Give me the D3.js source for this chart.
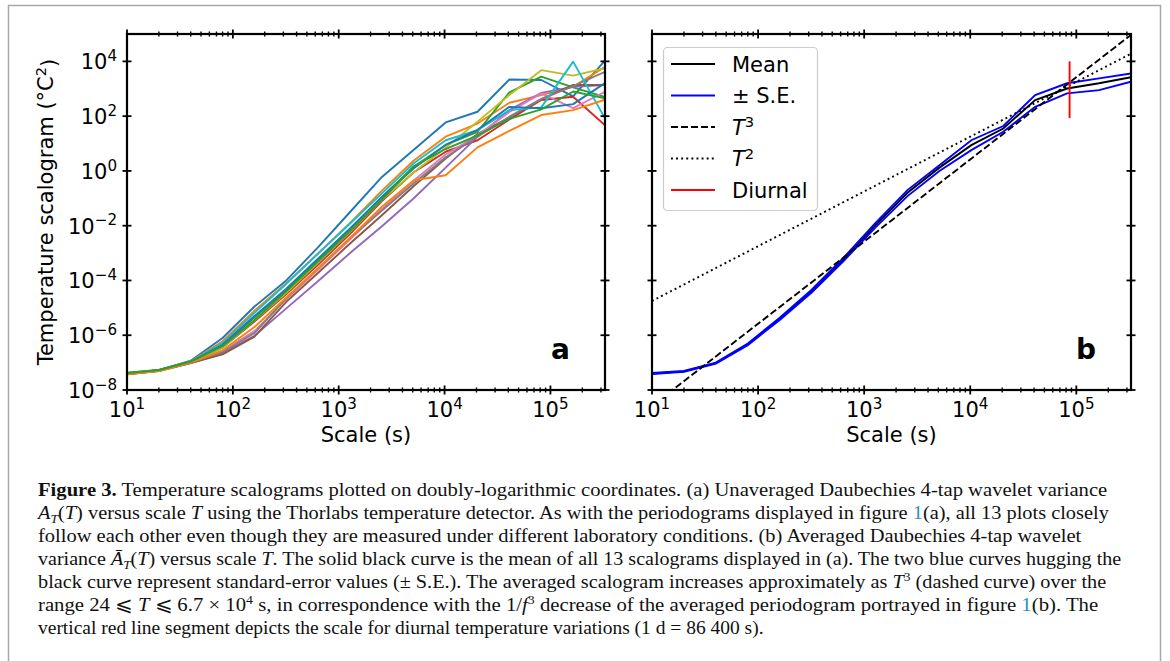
<!DOCTYPE html>
<html>
<head>
<meta charset="utf-8">
<script src="https://cdn.jsdelivr.net/npm/d3@7"></script>
<style>
  body { margin: 0; background: #fff; }
  svg { display: block; }
</style>
</head>
<body>
<div id="viz"></div>
<script>

// scale T in seconds (dyadic scales of the 10 s sampling)
const scales = [10, 20, 40, 80, 160, 320, 640, 1280, 2560, 5120, 10240, 20480, 40960, 81920, 163840, 327680];

// panel a: log10 of the 13 unaveraged scalograms
const run01 = [-7.40, -7.28, -6.93, -6.10, -4.95, -4.00, -2.78, -1.50, -0.22, 0.77, 1.77, 2.16, 3.34, 3.32, 2.72, 4.03];
const run02 = [-7.43, -7.30, -6.95, -6.22, -5.10, -4.10, -3.00, -1.90, -0.72, 0.38, 1.25, 1.73, 2.49, 2.77, 3.07, 3.80];
const run03 = [-7.37, -7.27, -6.97, -6.38, -5.35, -4.35, -3.25, -2.12, -0.95, 0.15, 0.95, 1.43, 2.87, 3.44, 3.05, 2.70];
const run04 = [-7.40, -7.28, -6.98, -6.45, -5.50, -4.50, -3.42, -2.30, -1.10, -0.05, 0.70, 1.12, 1.88, 2.59, 2.71, 1.67];
const run05 = [-7.42, -7.30, -7.02, -6.65, -6.02, -5.02, -4.02, -3.00, -2.02, -1.00, 0.12, 1.25, 2.22, 2.85, 3.07, 3.14];
const run06 = [-7.43, -7.31, -7.02, -6.70, -6.05, -4.78, -3.72, -2.65, -1.62, -0.55, 0.45, 1.35, 1.95, 2.62, 3.14, 3.14];
const run07 = [-7.40, -7.29, -6.99, -6.58, -5.85, -4.68, -3.60, -2.50, -1.40, -0.35, 0.60, 1.30, 2.15, 2.83, 2.29, 2.89];
const run08 = [-7.42, -7.30, -7.00, -6.62, -5.92, -4.65, -3.55, -2.45, -1.45, -0.45, 0.50, 1.25, 1.98, 2.62, 3.10, 3.62];
const run09 = [-7.40, -7.28, -6.97, -6.45, -5.45, -4.45, -3.35, -2.22, -1.05, -0.05, 0.85, 1.80, 2.77, 3.68, 3.48, 3.75];
const run10 = [-7.40, -7.28, -6.96, -6.28, -5.18, -4.12, -3.02, -1.92, -0.82, 0.28, 1.12, 1.49, 2.22, 2.32, 3.99, 1.92];
const run11 = [-7.40, -7.28, -6.97, -6.35, -5.30, -4.30, -3.20, -2.10, -0.95, 0.10, 0.95, 1.50, 2.34, 2.29, 2.44, 3.21];
const run12 = [-7.42, -7.31, -7.00, -6.55, -5.70, -4.62, -3.55, -2.45, -1.31, -0.34, -0.16, 0.86, 1.46, 2.04, 2.22, 2.60];
const run13 = [-7.38, -7.27, -6.96, -6.40, -5.45, -4.40, -3.30, -2.20, -1.05, 0.17, 0.80, 1.30, 1.90, 2.25, 2.90, 2.65];
const runs = [run01, run02, run03, run04, run05, run06, run07, run08, run09, run10, run11, run12, run13];
// matplotlib default colour cycle, wrapping after ten
const runColors = ['#1f77b4', '#ff7f0e', '#2ca02c', '#d62728', '#9467bd', '#8c564b', '#e377c2',
                   '#7f7f7f', '#bcbd22', '#17becf', '#1f77b4', '#ff7f0e', '#2ca02c'];

// panel b: log10 of mean and +/- standard error
const meanLog  = [-7.40, -7.32, -7.02, -6.33, -5.40, -4.39, -3.23, -1.98, -0.80, 0.12, 0.94, 1.55, 2.59, 3.01, 3.20, 3.42];
const upperLog = [-7.38, -7.30, -7.00, -6.30, -5.36, -4.34, -3.17, -1.90, -0.70, 0.21, 1.12, 1.64, 2.77, 3.20, 3.38, 3.56];
const lowerLog = [-7.42, -7.34, -7.04, -6.36, -5.44, -4.44, -3.29, -2.06, -0.92, 0.00, 0.76, 1.43, 2.34, 2.83, 2.95, 3.26];
// power-law guide lines, given by their end points [T, A]
const t3Line = [[10, 2.63e-9], [327680, 9.26e4]];
const t2Line = [[10, 1.78e-5], [327680, 1.91e4]];
// diurnal scale, 1 d = 86400 s
const diurnalLine = [[86400, 85], [86400, 1.0e4]];

const xTickValues = [1e1, 1e2, 1e3, 1e4, 1e5];
const xTickExps = ['1', '2', '3', '4', '5'];
const yTickValues = [1e-8, 1e-6, 1e-4, 1e-2, 1e0, 1e2, 1e4];
const yTickExps = ['\u22128', '\u22126', '\u22124', '\u22122', '0', '2', '4'];

const legendNames = ['Mean', '\u00b1 S.E.', 'T3', 'T2', 'Diurnal'];

// caption, one entry per printed line; segments are [text, style]
const captionLines = [
  [['Figure 3.', 'b'], [' Temperature scalograms plotted on doubly-logarithmic coordinates. (a)  Unaveraged Daubechies 4-tap wavelet variance', '']],
  [['A', 'i'], ['T', 'sub'], ['(', ''], ['T', 'i'], [') versus scale ', ''], ['T', 'i'], [' using the Thorlabs temperature detector. As with the periodograms displayed in figure ', ''], ['1', 'link'], ['(a), all 13 plots closely', '']],
  [['follow each other even though they are measured under different laboratory conditions. (b)  Averaged Daubechies 4-tap wavelet', '']],
  [['variance ', ''], ['\u0100', 'i'], ['T', 'sub'], ['(', ''], ['T', 'i'], [') versus scale ', ''], ['T', 'i'], ['. The solid black curve is the mean of all 13 scalograms displayed in (a). The two blue curves hugging the', '']],
  [['black curve represent standard-error values (\u00b1 S.E.). The averaged scalogram increases approximately as ', ''], ['T', 'i'], ['3', 'sup'], [' (dashed curve) over the', '']],
  [['range 24 \u2a7d ', ''], ['T', 'i'], [' \u2a7d 6.7 \u00d7 10', ''], ['4', 'sup'], [' s, in correspondence with the 1/', ''], ['f', 'i'], ['3', 'sup'], [' decrease of the averaged periodogram portrayed in figure ', ''], ['1', 'link'], ['(b). The', '']],
  [['vertical red line segment depicts the scale for diurnal temperature variations (1 d = 86 400 s).', '']]
];
const captionRight = [1108, 1112, 1082, 1122, 1107, 1100, 764];

// dimensions
const width = 1170, height = 661;
const yTop = 34, yBottom = 390;
const panels = [
  { id: 'a', left: 127, right: 605 },
  { id: 'b', left: 652, right: 1131 }
];
const sans = 'DejaVu Sans, sans-serif';

const svg = d3.select('#viz').append('svg')
  .attr('width', width)
  .attr('height', height);

// light frame round the whole figure
svg.append('rect')
  .attr('x', 8.5).attr('y', 5.5)
  .attr('width', 1152).attr('height', 700)
  .attr('fill', 'none').attr('stroke', '#a8a8a8').attr('stroke-width', 1.5);

const y = d3.scaleLog().domain([1e-8, 1e5]).range([yBottom, yTop]);

// tick label of the form 10^n
function powerLabel(sel, exp) {
  sel.append('tspan').text('10');
  sel.append('tspan').attr('dy', '-0.55em').attr('font-size', '0.72em').text(exp);
}

panels.forEach((p) => {
  const x = d3.scaleLog().domain([10, 327680]).range([p.left, p.right]);
  const g = svg.append('g');

  g.append('clipPath').attr('id', 'clip' + p.id)
    .append('rect')
      .attr('x', p.left).attr('y', yTop)
      .attr('width', p.right - p.left).attr('height', yBottom - yTop);

  const plot = g.append('g').attr('clip-path', `url(#clip${p.id})`);
  const line = d3.line()
    .x((d, i) => x(scales[i]))
    .y(d => y(Math.pow(10, d)));
  const seg = d3.line().x(d => x(d[0])).y(d => y(d[1]));

  if (p.id === 'a') {
    runs.forEach((r, i) => {
      plot.append('path')
        .datum(r)
        .attr('d', line)
        .attr('fill', 'none')
        .attr('stroke', runColors[i])
        .attr('stroke-width', 1.9)
        .attr('stroke-linejoin', 'round');
    });
  } else {
    plot.append('path').datum(meanLog).attr('d', line)
      .attr('fill', 'none').attr('stroke', '#000').attr('stroke-width', 1.9);
    [upperLog, lowerLog].forEach(s => {
      plot.append('path').datum(s).attr('d', line)
        .attr('fill', 'none').attr('stroke', '#0000ff').attr('stroke-width', 1.9);
    });
    plot.append('path').datum(t3Line).attr('d', seg)
      .attr('fill', 'none').attr('stroke', '#000').attr('stroke-width', 1.9)
      .attr('stroke-dasharray', '7,3');
    plot.append('path').datum(t2Line).attr('d', seg)
      .attr('fill', 'none').attr('stroke', '#000').attr('stroke-width', 1.9)
      .attr('stroke-dasharray', '1.9,3.2');
    plot.append('path').datum(diurnalLine).attr('d', seg)
      .attr('fill', 'none').attr('stroke', '#ff0000').attr('stroke-width', 1.9);
  }

  // ticks, drawn across the spines (in and out)
  const ticks = g.append('g').attr('stroke', '#000');
  x.ticks().forEach(v => {
    const major = xTickValues.includes(v);
    const len = major ? 4.5 : 2.5;
    const w = major ? 1.8 : 1.4;
    [yTop, yBottom].forEach(yy => {
      ticks.append('line')
        .attr('x1', x(v)).attr('x2', x(v))
        .attr('y1', yy - len).attr('y2', yy + len)
        .attr('stroke-width', w);
    });
  });
  yTickValues.forEach(v => {
    [p.left, p.right].forEach(xx => {
      ticks.append('line')
        .attr('x1', xx - 4.5).attr('x2', xx + 4.5)
        .attr('y1', y(v)).attr('y2', y(v))
        .attr('stroke-width', 1.8);
    });
  });

  // spines
  g.append('rect')
    .attr('x', p.left).attr('y', yTop)
    .attr('width', p.right - p.left).attr('height', yBottom - yTop)
    .attr('fill', 'none').attr('stroke', '#000').attr('stroke-width', 2.2);

  // x tick labels
  xTickValues.forEach((v, i) => {
    const t = g.append('text')
      .attr('x', x(v)).attr('y', 417)
      .attr('text-anchor', 'middle')
      .attr('font-family', sans).attr('font-size', 21);
    powerLabel(t, xTickExps[i]);
  });

  g.append('text')
    .attr('x', (p.left + p.right) / 2).attr('y', 442)
    .attr('text-anchor', 'middle')
    .attr('font-family', sans).attr('font-size', 21)
    .text('Scale (s)');

  // panel letter
  g.append('text')
    .attr('x', p.right - 35).attr('y', 359)
    .attr('text-anchor', 'end')
    .attr('font-family', sans).attr('font-size', 28).attr('font-weight', 'bold')
    .text(p.id);

  if (p.id === 'a') {
    yTickValues.forEach((v, i) => {
      const t = g.append('text')
        .attr('x', 117).attr('y', y(v) + 8)
        .attr('text-anchor', 'end')
        .attr('font-family', sans).attr('font-size', 21);
      powerLabel(t, yTickExps[i]);
    });
    const yl = g.append('text')
      .attr('transform', `translate(53,${(yTop + yBottom) / 2}) rotate(-90)`)
      .attr('text-anchor', 'middle')
      .attr('font-family', sans).attr('font-size', 21);
    yl.append('tspan').text('Temperature scalogram (\u00b0C');
    yl.append('tspan').attr('dy', '-0.5em').attr('font-size', '0.7em').text('2');
    yl.append('tspan').attr('dy', '0.5em').text(')');
  }
});

// legend of panel b
const leg = svg.append('g');
leg.append('rect')
  .attr('x', 663.5).attr('y', 47.5)
  .attr('width', 154).attr('height', 163).attr('rx', 4)
  .attr('fill', '#fff').attr('fill-opacity', 0.8)
  .attr('stroke', '#cccccc').attr('stroke-width', 1.2);
const legStyles = [
  { stroke: '#000', dash: null },
  { stroke: '#0000ff', dash: null },
  { stroke: '#000', dash: '7,3' },
  { stroke: '#000', dash: '1.9,3.2' },
  { stroke: '#ff0000', dash: null }
];
legendNames.forEach((name, i) => {
  const yy = 64 + i * 31.5;
  leg.append('line')
    .attr('x1', 671).attr('x2', 715).attr('y1', yy).attr('y2', yy)
    .attr('stroke', legStyles[i].stroke).attr('stroke-width', 1.9)
    .attr('stroke-dasharray', legStyles[i].dash);
  const t = leg.append('text')
    .attr('x', 732).attr('y', yy + 7.5)
    .attr('font-family', sans).attr('font-size', 21);
  if (name === 'T3' || name === 'T2') {
    t.append('tspan').attr('font-style', 'italic').text('T');
    t.append('tspan').attr('dy', '-0.5em').attr('font-size', '0.7em').text(name[1]);
  } else {
    t.text(name);
  }
});

// caption, each line squeezed to its printed width
const serif = 'Liberation Serif, Times New Roman, serif';
captionLines.forEach((segs, li) => {
  const baseY = 496 + li * 23;
  const t = svg.append('text')
    .attr('font-family', serif).attr('font-size', 19.5).attr('fill', '#111');
  let shift = 0;
  segs.forEach(([txt, st]) => {
    const ts = t.append('tspan').text(txt);
    let want = 0;
    if (st === 'sub') want = 4;
    if (st === 'sup') want = -7;
    if (want !== shift) { ts.attr('dy', want - shift); shift = want; }
    if (st === 'b') ts.attr('font-weight', 'bold');
    if (st === 'i' || st === 'sub') ts.attr('font-style', 'italic');
    if (st === 'sub' || st === 'sup') ts.attr('font-size', 13);
    if (st === 'link') ts.attr('fill', '#2a8fcc');
  });
  const w = t.node().getBBox().width;
  const sx = (captionRight[li] - 38) / w;
  t.attr('transform', `translate(38,${baseY}) scale(${sx},1)`);
});

</script>
</body>
</html>
